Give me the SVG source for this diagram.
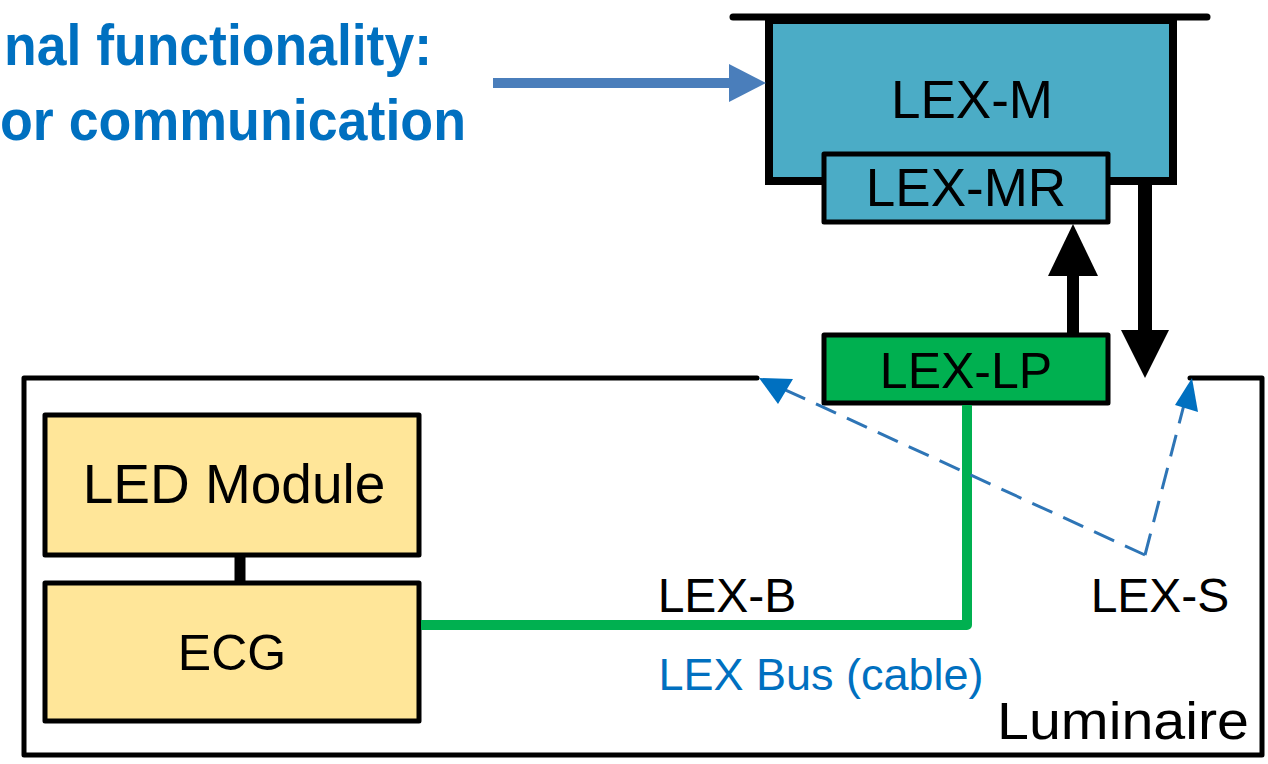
<svg xmlns="http://www.w3.org/2000/svg" width="1268" height="764" viewBox="0 0 1268 764">
<style>
.t{font-family:"Liberation Sans",Arial,sans-serif;fill:#000;}
.c{text-anchor:middle;}
.blue{fill:#0070C0;}
.box{stroke:#000;stroke-width:5;stroke-linejoin:round;}
</style>
<rect width="1268" height="764" fill="#fff"/>

<g id="title">
<text class="t blue" x="4" y="65" font-size="57" font-weight="bold" textLength="428" lengthAdjust="spacingAndGlyphs">nal functionality:</text>
<text class="t blue" x="0" y="140" font-size="57" font-weight="bold" textLength="466" lengthAdjust="spacingAndGlyphs">or communication</text>
</g>

<g id="luminaire">
<path d="M757,378 L24,378 L24,755 L1262,755 L1262,378 L1190,378" fill="none" stroke="#000" stroke-width="5" stroke-linejoin="round" stroke-linecap="round"/>
<text class="t c" x="1123" y="739" font-size="51" textLength="252" lengthAdjust="spacingAndGlyphs">Luminaire</text>
</g>

<g id="lex-m">
<line x1="733" y1="17" x2="1207" y2="17" stroke="#000" stroke-width="7" stroke-linecap="round"/>
<rect x="769" y="20" width="404" height="161" fill="#4BACC6" stroke="#000" stroke-width="8"/>
<text class="t c" x="972" y="118" font-size="53">LEX-M</text>
</g>

<g id="lex-mr">
<rect x="824" y="154" width="284" height="68" fill="#4BACC6" class="box"/>
<text class="t c" x="966" y="206" font-size="53">LEX-MR</text>
</g>

<g id="lex-lp">
<rect x="824" y="335" width="284" height="68" fill="#00B050" class="box"/>
<text class="t c" x="966" y="388" font-size="50">LEX-LP</text>
</g>

<g id="led-module">
<rect x="45" y="415" width="374" height="140" fill="#FFE699" class="box"/>
<text class="t c" x="234" y="503" font-size="55">LED Module</text>
</g>

<g id="ecg">
<rect x="45" y="583" width="374" height="138" fill="#FFE699" class="box"/>
<text class="t c" x="232" y="670" font-size="50">ECG</text>
</g>

<g id="labels">
<text class="t c" x="727" y="612" font-size="48">LEX-B</text>
<text class="t c" x="1160" y="612" font-size="48">LEX-S</text>
<text class="t c blue" x="821" y="690" font-size="45">LEX Bus (cable)</text>
</g>

<g id="connectors">
<path d="M493,83 L732,83" stroke="#4A7EBB" stroke-width="10" fill="none"/>
<path d="M729,64 L766,83 L729,102 Z" fill="#4A7EBB"/>
<line x1="240" y1="555" x2="240" y2="583" stroke="#000" stroke-width="11"/>
<path d="M421,625 L967,625 L967,405" fill="none" stroke="#00B050" stroke-width="10" stroke-linejoin="round"/>
<line x1="1073" y1="333" x2="1073" y2="272" stroke="#000" stroke-width="12"/>
<path d="M1048,276 L1073,224 L1098,276 Z" fill="#000"/>
<line x1="1145" y1="183" x2="1145" y2="334" stroke="#000" stroke-width="14"/>
<path d="M1121,330 L1169,330 L1145,378 Z" fill="#000"/>
<path d="M1145,555 L779,387" fill="none" stroke="#2E75B6" stroke-width="3" stroke-dasharray="22,12"/>
<path d="M1145,555 L1186,397" fill="none" stroke="#2E75B6" stroke-width="3" stroke-dasharray="22,12"/>
<path d="M759,378 L793,379 L778,404 Z" fill="#0070C0"/>
<path d="M1192,378 L1198,412 L1175,405 Z" fill="#0070C0"/>
</g>
</svg>
